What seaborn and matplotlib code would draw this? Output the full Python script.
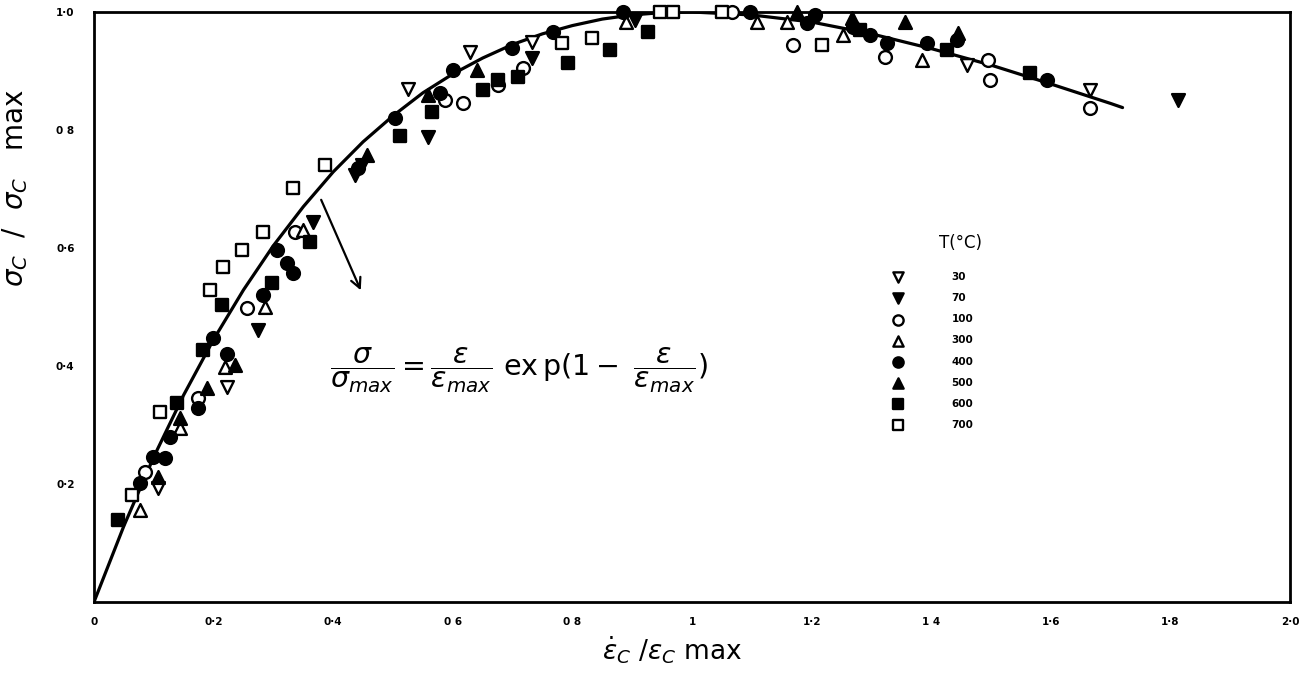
import matplotlib
matplotlib.use("Agg")
import matplotlib.pyplot as plt
import seaborn as sns
import pandas as pd

# fitted curve sigma/sigma_max
curve_x = [0.0, 0.05, 0.1, 0.15, 0.2, 0.25, 0.3, 0.35, 0.4, 0.45, 0.5, 0.55, 0.6,
           0.65, 0.7, 0.75, 0.8, 0.85, 0.9, 0.95, 1.0, 1.1, 1.2, 1.3, 1.4, 1.5,
           1.6, 1.7, 1.72]
curve_y = [0.0, 0.129, 0.246, 0.351, 0.445, 0.529, 0.604, 0.670, 0.729, 0.780,
           0.824, 0.863, 0.895, 0.922, 0.945, 0.963, 0.977, 0.988, 0.995, 0.999,
           1.0, 0.995, 0.983, 0.963, 0.938, 0.910, 0.878, 0.845, 0.838]

# measured points per temperature (T in degC)
t30_x = [0.107, 0.222, 0.525, 0.629, 0.732, 1.460, 1.666]
t30_y = [0.193, 0.364, 0.870, 0.932, 0.949, 0.910, 0.868]

t70_x = [0.274, 0.366, 0.436, 0.448, 0.559, 0.732, 0.905, 1.813]
t70_y = [0.461, 0.644, 0.724, 0.741, 0.788, 0.922, 0.986, 0.851]

t100_x = [0.085, 0.174, 0.256, 0.336, 0.587, 0.617, 0.676, 0.717, 1.067, 1.169,
          1.323, 1.495, 1.498, 1.666]
t100_y = [0.220, 0.346, 0.498, 0.627, 0.851, 0.846, 0.876, 0.905, 1.0, 0.944,
          0.924, 0.919, 0.885, 0.837]

t300_x = [0.077, 0.144, 0.219, 0.286, 0.349, 0.890, 1.109, 1.159, 1.253, 1.385]
t300_y = [0.156, 0.295, 0.398, 0.500, 0.631, 0.983, 0.983, 0.983, 0.961, 0.919]

t400_x = [0.077, 0.099, 0.119, 0.127, 0.174, 0.199, 0.222, 0.283, 0.306, 0.323,
          0.333, 0.441, 0.503, 0.579, 0.600, 0.699, 0.768, 0.885, 1.097, 1.192,
          1.206, 1.269, 1.298, 1.326, 1.393, 1.443, 1.594]
t400_y = [0.202, 0.246, 0.244, 0.280, 0.329, 0.447, 0.420, 0.520, 0.597, 0.575,
          0.558, 0.736, 0.820, 0.863, 0.902, 0.939, 0.966, 1.0, 1.0, 0.981,
          0.995, 0.975, 0.961, 0.947, 0.947, 0.953, 0.885]

t500_x = [0.107, 0.144, 0.189, 0.236, 0.457, 0.559, 0.640, 1.176, 1.268, 1.356, 1.445]
t500_y = [0.212, 0.312, 0.363, 0.402, 0.758, 0.859, 0.902, 1.0, 0.990, 0.983, 0.964]

t600_x = [0.040, 0.139, 0.182, 0.214, 0.298, 0.361, 0.512, 0.565, 0.650, 0.676,
          0.709, 0.793, 0.863, 0.926, 1.281, 1.426, 1.565]
t600_y = [0.139, 0.337, 0.427, 0.503, 0.541, 0.610, 0.790, 0.831, 0.868, 0.885,
          0.890, 0.914, 0.936, 0.966, 0.969, 0.936, 0.897]

t700_x = [0.064, 0.110, 0.194, 0.216, 0.247, 0.283, 0.333, 0.386, 0.783, 0.833,
          0.946, 0.968, 1.05, 1.217]
t700_y = [0.181, 0.322, 0.529, 0.568, 0.597, 0.627, 0.702, 0.741, 0.947, 0.956,
          1.0, 1.0, 1.0, 0.944]

x_ticks = [0, 0.2, 0.4, 0.6, 0.8, 1.0, 1.2, 1.4, 1.6, 1.8, 2.0]
x_labels = ['0', '0·2', '0·4', '0 6', '0 8', '1', '1·2', '1 4', '1·6', '1·8', '2·0']
y_ticks = [0.2, 0.4, 0.6, 0.8, 1.0]
y_labels = ['0·2', '0·4', '0·6', '0 8', '1·0']

series = [
    ('30', t30_x, t30_y, 'v', False),
    ('70', t70_x, t70_y, 'v', True),
    ('100', t100_x, t100_y, 'o', False),
    ('300', t300_x, t300_y, '^', False),
    ('400', t400_x, t400_y, 'o', True),
    ('500', t500_x, t500_y, '^', True),
    ('600', t600_x, t600_y, 's', True),
    ('700', t700_x, t700_y, 's', False),
]

sns.set_style('white')
plt.rcParams['font.family'] = ['DejaVu Sans']
plt.rcParams['text.color'] = 'black'
plt.rcParams['xtick.color'] = 'black'
plt.rcParams['ytick.color'] = 'black'

W, H = 1313, 698
fig = plt.figure(figsize=(W / 100, H / 100), dpi=100)
ax = fig.add_axes([94 / W, 1 - 602 / H, (1290 - 94) / W, (602 - 12) / H])

# кривая
sns.lineplot(x=curve_x, y=curve_y, color='black', linewidth=2.3, ax=ax, zorder=2)

# точки
for label, xs, ys, mk, filled in series:
    df = pd.DataFrame({'x': xs, 'y': ys})
    sns.scatterplot(
        data=df, x='x', y='y', marker=mk, s=85,
        facecolor='black' if filled else 'white',
        edgecolor='black', linewidth=1.7,
        label=label, ax=ax, zorder=3, clip_on=False
    )

ax.set_xlim(0, 2.0)
ax.set_ylim(0, 1.0)
ax.set_xticks(x_ticks)
ax.set_xticklabels(x_labels, fontsize=7.5, fontweight='bold')
ax.set_yticks(y_ticks)
ax.set_yticklabels(y_labels, fontsize=7.5, fontweight='bold')
ax.set_xlabel('')
ax.set_ylabel('')
ax.tick_params(axis='x', direction='in', length=7, width=1.5, pad=11)
ax.tick_params(axis='y', direction='in', length=8, width=1.5, pad=14)

for sp in ax.spines.values():
    sp.set_linewidth(2)
    sp.set_color('black')

# формула со стрелкой
ax.annotate('', xy=(0.448, 0.524), xytext=(0.378, 0.686),
            arrowprops=dict(arrowstyle='->', lw=1.6, color='black',
                            mutation_scale=18))
ax.text(0.395, 0.393,
        r'$\dfrac{\sigma}{\sigma_{max}} = \dfrac{\varepsilon}{\varepsilon_{max}}\ \mathrm{ex\,p(1-}\ \dfrac{\varepsilon}{\varepsilon_{max}}\mathrm{)}$',
        fontsize=20.5, va='center', ha='left', color='black')

# легенда
leg = ax.legend(
    loc='upper left',
    bbox_to_anchor=(893 / W, 1 - 272 / H), bbox_transform=fig.transFigure,
    frameon=False, borderpad=0, borderaxespad=0,
    handlelength=1.0, handletextpad=4.6, labelspacing=1.07,
    prop={'size': 7.5, 'weight': 'bold'}, markerscale=0.8
)
fig.text(960 / W, 1 - 243 / H, 'T(°C)', ha='center', va='center', fontsize=12)

# подписи осей
fig.text(672 / W, 1 - 650 / H, r'$\dot{\varepsilon}_C\ /\varepsilon_C$ max',
         ha='center', va='center', fontsize=19)
fig.text(15 / W, 1 - 188 / H, r'$\sigma_C\ \ /\ \ \sigma_C\ \ $ max', rotation=90,
         ha='center', va='center', fontsize=20)

fig.patch.set_facecolor('white')
fig.savefig('out.png', dpi=100, facecolor='white')
